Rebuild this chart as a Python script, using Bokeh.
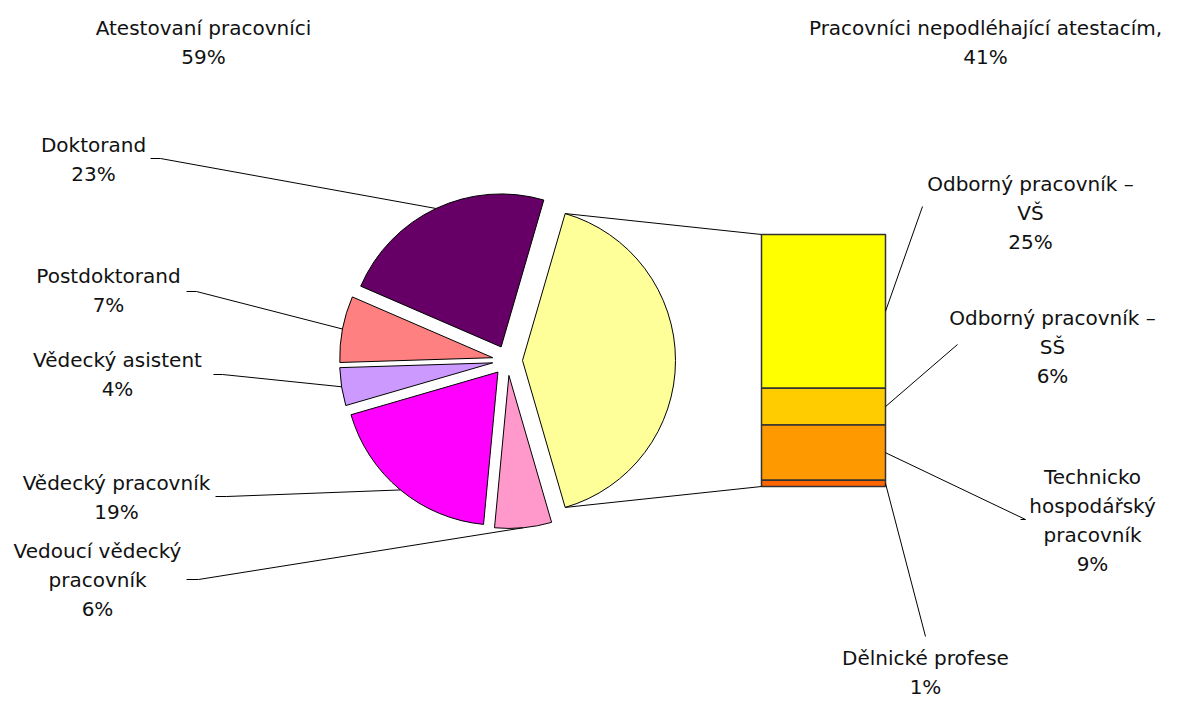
import math
from bokeh.plotting import figure
from bokeh.embed import file_html
from bokeh.resources import INLINE
from bokeh.core.properties import value

# ---------------- data ----------------
group_names = ["Atestovaní pracovníci", "Pracovníci nepodléhající atestacím,"]
group_pct = [59, 41]

pie_labels = ["Doktorand", "Postdoktorand", "Vědecký asistent",
              "Vědecký pracovník", "Vedoucí vědecký\npracovník"]
pie_pct = [23, 7, 4, 19, 6]

bar_labels = ["Odborný pracovník –\nVŠ", "Odborný pracovník –\nSŠ",
              "Technicko\nhospodářský\npracovník", "Dělnické profese"]
bar_pct = [25, 6, 9, 1]

# ---------------- styles ----------------
pie_colors = ["#660066", "#FF8080", "#CC99FF", "#FF00FF", "#FF99CC"]
other_color = "#FFFF99"
bar_colors = ["#FFFF00", "#FFCC00", "#FF9900", "#FF6600"]
FONT = "DejaVu Sans"
FSIZE = "20px"
LH = 29

# ---------------- layout (picture pixel coords) ----------------
W, H = 1161, 697
def X(x): return x
def Y(y): return H - y

CX, CY, R, EXP = 507, 360, 153, 15
BX0, BX1, BTOP, BH = 761, 885, 234, 252

group_label_pos = [(203, 27), (985, 27)]
pie_label_pos = [(93, 144), (108, 275), (117, 359), (116, 482), (97, 550)]
pie_leader_anchor = [[(150, 158), (160, 158)], [(186, 291), (196, 291)],
                     [(213, 374), (222, 374)], [(215, 496), (226, 496)],
                     [(186, 579), (198, 579)]]
bar_label_pos = [(1030, 183), (1052, 317), (1092, 476), (925, 657)]
bar_leader_anchor = [[(922, 206)], [(957, 344)], [(1025, 519), (1020, 519)], [(925, 636)]]

p = figure(width=W, height=H, x_range=(0, W), y_range=(0, H),
           output_backend="svg", toolbar_location=None, min_border=0,
           x_axis_location=None, y_axis_location=None)
p.grid.visible = False
p.outline_line_color = None
p.background_fill_color = "white"

# ---------------- pie ----------------
half = group_pct[1] / 100 * math.pi
cx, cy = X(CX), Y(CY)

wx, wy, a0s, a1s, cols = [], [], [], [], []
wx.append(cx + EXP); wy.append(cy); a0s.append(-half); a1s.append(half); cols.append(other_color)
yellow_c = (cx + EXP, cy)

start = half
edges = []
for pct, col in zip(pie_pct, pie_colors):
    span = pct / 100 * 2 * math.pi
    mid = start + span / 2
    ox, oy = cx + EXP * math.cos(mid), cy + EXP * math.sin(mid)
    wx.append(ox); wy.append(oy); a0s.append(start); a1s.append(start + span); cols.append(col)
    edges.append((ox + R * math.cos(mid), oy + R * math.sin(mid)))
    start += span

p.wedge(x=wx, y=wy, radius=R, start_angle=a0s, end_angle=a1s,
        fill_color=cols, line_color="black", line_width=1)

# ---------------- bar ----------------
tot = group_pct[1]
tops, bots, mids = [], [], []
cur = Y(BTOP)
for pct in bar_pct:
    h = pct / tot * BH
    tops.append(cur); bots.append(cur - h); mids.append(cur - h / 2)
    cur -= h
p.quad(left=X(BX0), right=X(BX1), top=tops, bottom=bots,
       fill_color=bar_colors, line_color="#333333", line_width=1.5)

# connector lines between pie and bar
tp = (yellow_c[0] + R * math.cos(half), yellow_c[1] + R * math.sin(half))
bp = (yellow_c[0] + R * math.cos(-half), yellow_c[1] + R * math.sin(-half))
p.multi_line(xs=[[tp[0], X(BX0)], [bp[0], X(BX0)]],
             ys=[[tp[1], tops[0]], [bp[1], bots[-1]]],
             line_color="black", line_width=1)

# ---------------- leader lines ----------------
lxs, lys = [], []
for e, anc in zip(edges, pie_leader_anchor):
    pts = [e] + [(X(a), Y(b)) for a, b in reversed(anc)]
    lxs.append([q[0] for q in pts]); lys.append([q[1] for q in pts])
for m, anc in zip(mids, bar_leader_anchor):
    pts = [(X(BX1), m)] + [(X(a), Y(b)) for a, b in anc]
    lxs.append([q[0] for q in pts]); lys.append([q[1] for q in pts])
p.multi_line(xs=lxs, ys=lys, line_color="black", line_width=1)

# ---------------- labels ----------------
tx, ty_, tt = [], [], []
def add_label(text, pct, pos):
    lines = text.split("\n") + [f"{pct}%"]
    for i, ln in enumerate(lines):
        tx.append(X(pos[0])); ty_.append(Y(pos[1] + i * LH)); tt.append(ln)

for name, pct, pos in zip(group_names, group_pct, group_label_pos):
    add_label(name, pct, pos)
for name, pct, pos in zip(pie_labels, pie_pct, pie_label_pos):
    add_label(name, pct, pos)
for name, pct, pos in zip(bar_labels, bar_pct, bar_label_pos):
    add_label(name, pct, pos)

p.text(x=tx, y=ty_, text=tt, text_font=value(FONT), text_font_size=FSIZE,
       text_align="center", text_baseline="middle", text_color="#111111")

open("out.html", "w").write(file_html(p, INLINE))
